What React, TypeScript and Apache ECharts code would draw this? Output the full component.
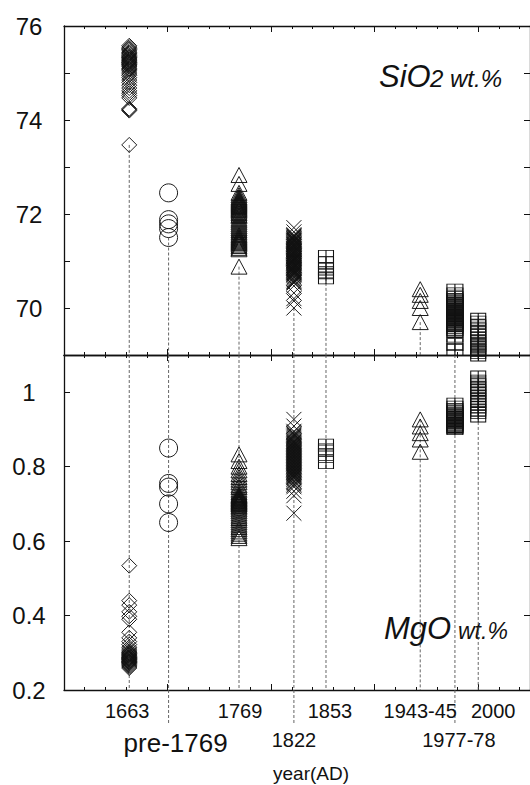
import React, { useEffect, useRef } from 'react';
import * as echarts from 'echarts';

// ---------- data ----------
const categories = ['1663', 'pre-1769', '1769', '1822', '1853', '1943-45', '1977-78', '2000'];
const years = [1663, 1701, 1769, 1822, 1853, 1944, 1977.5, 2000];

const sio2_1663 = [75.58, 75.55, 75.52, 75.5, 75.47, 75.44, 75.42, 75.4, 75.37, 75.35, 75.33, 75.32, 75.3, 75.28, 75.27, 75.25, 75.23, 75.22, 75.2, 75.18, 75.17, 75.15, 75.13, 75.1, 75.08, 75.06, 75.02, 74.98, 74.95, 74.9, 74.85, 74.8, 74.74, 74.68, 74.62, 74.57, 74.52, 74.47, 74.24, 74.22, 74.2, 73.47];
const sio2_pre1769 = [72.45, 71.88, 71.79, 71.69, 71.5];
const sio2_1769 = [72.83, 72.64, 72.45, 72.4, 72.36, 72.33, 72.31, 72.29, 72.27, 72.25, 72.23, 72.21, 72.19, 72.17, 72.15, 72.12, 72.1, 72.08, 72.05, 72.02, 71.98, 71.95, 71.9, 71.86, 71.82, 71.78, 71.74, 71.7, 71.66, 71.62, 71.58, 71.55, 71.52, 71.5, 71.48, 71.46, 71.44, 71.42, 71.4, 71.38, 71.35, 71.32, 71.28, 71.25, 70.88];
const sio2_1822 = [71.71, 71.62, 71.56, 71.54, 71.53, 71.51, 71.5, 71.48, 71.47, 71.45, 71.44, 71.43, 71.42, 71.4, 71.39, 71.37, 71.36, 71.35, 71.34, 71.32, 71.31, 71.3, 71.29, 71.27, 71.26, 71.25, 71.24, 71.22, 71.21, 71.2, 71.19, 71.17, 71.16, 71.15, 71.14, 71.12, 71.11, 71.1, 71.09, 71.07, 71.06, 71.05, 71.04, 71.02, 71.01, 71.0, 70.99, 70.97, 70.96, 70.95, 70.94, 70.92, 70.91, 70.9, 70.89, 70.87, 70.86, 70.85, 70.84, 70.82, 70.81, 70.8, 70.79, 70.77, 70.76, 70.75, 70.74, 70.72, 70.71, 70.69, 70.66, 70.63, 70.6, 70.57, 70.55, 70.53, 70.47, 70.32, 70.2, 70.15, 70.0];
const sio2_1853 = [71.1, 70.96, 70.83, 70.75, 70.64];
const sio2_1943 = [70.4, 70.28, 70.15, 70.0, 69.7];
const sio2_1977 = [70.38, 70.3, 70.22, 70.18, 70.15, 70.13, 70.1, 70.08, 70.06, 70.04, 70.02, 70.0, 69.98, 69.96, 69.94, 69.92, 69.9, 69.88, 69.86, 69.84, 69.82, 69.8, 69.78, 69.76, 69.74, 69.72, 69.7, 69.68, 69.65, 69.62, 69.58, 69.54, 69.5, 69.4, 69.22, 69.12];
const sio2_2000 = [69.76, 69.7, 69.62, 69.55, 69.48, 69.42, 69.36, 69.3, 69.25, 69.2, 69.15, 69.1, 69.05, 69.0];

const mgo_1663 = [0.534, 0.44, 0.428, 0.41, 0.398, 0.39, 0.355, 0.34, 0.33, 0.322, 0.315, 0.31, 0.305, 0.302, 0.3, 0.298, 0.296, 0.294, 0.292, 0.29, 0.288, 0.287, 0.285, 0.284, 0.282, 0.281, 0.279, 0.277, 0.276, 0.274, 0.273, 0.271, 0.268, 0.265, 0.262, 0.259];
const mgo_pre1769 = [0.85, 0.755, 0.745, 0.7, 0.65];
const mgo_1769 = [0.833, 0.815, 0.8, 0.79, 0.78, 0.772, 0.765, 0.758, 0.75, 0.745, 0.738, 0.732, 0.727, 0.724, 0.722, 0.72, 0.718, 0.716, 0.714, 0.712, 0.71, 0.708, 0.706, 0.704, 0.702, 0.7, 0.698, 0.694, 0.69, 0.685, 0.68, 0.674, 0.668, 0.662, 0.656, 0.65, 0.644, 0.638, 0.632, 0.626, 0.62, 0.614, 0.608];
const mgo_1822 = [0.927, 0.909, 0.895, 0.892, 0.888, 0.885, 0.882, 0.879, 0.876, 0.873, 0.87, 0.868, 0.866, 0.864, 0.862, 0.86, 0.858, 0.856, 0.854, 0.852, 0.85, 0.848, 0.846, 0.844, 0.842, 0.84, 0.838, 0.836, 0.834, 0.832, 0.83, 0.828, 0.826, 0.824, 0.822, 0.82, 0.818, 0.816, 0.814, 0.812, 0.81, 0.808, 0.806, 0.804, 0.802, 0.8, 0.798, 0.796, 0.794, 0.792, 0.79, 0.788, 0.786, 0.784, 0.782, 0.78, 0.778, 0.776, 0.774, 0.772, 0.77, 0.766, 0.762, 0.758, 0.754, 0.75, 0.746, 0.734, 0.722, 0.675];
const mgo_1853 = [0.858, 0.845, 0.833, 0.811];
const mgo_1943 = [0.927, 0.908, 0.89, 0.873, 0.84];
const mgo_1977 = [0.968, 0.96, 0.954, 0.948, 0.944, 0.94, 0.936, 0.932, 0.929, 0.926, 0.923, 0.92, 0.917, 0.914, 0.911, 0.908, 0.905, 0.902];
const mgo_2000 = [1.041, 1.03, 1.02, 1.012, 1.005, 0.998, 0.99, 0.982, 0.975, 0.968, 0.96, 0.952, 0.945, 0.936];

const sio2Sets = [sio2_1663, sio2_pre1769, sio2_1769, sio2_1822, sio2_1853, sio2_1943, sio2_1977, sio2_2000];
const mgoSets = [mgo_1663, mgo_pre1769, mgo_1769, mgo_1822, mgo_1853, mgo_1943, mgo_1977, mgo_2000];

// ---------- styling / layout (not data) ----------
const FONT = '"Liberation Sans", Arial, Helvetica, sans-serif';
const INK = '#111';
const CROSS = 'path://M0,0L12,12M12,0L0,12';
const BOXPLUS = 'path://M0,0L16,0L16,12L0,12ZM8,0L8,12M0,6L16,6';
const markerStyle = [
  { symbol: 'diamond', size: 15 },
  { symbol: 'circle', size: 18 },
  { symbol: 'triangle', size: [16, 15] },
  { symbol: CROSS, size: 15 },
  { symbol: BOXPLUS, size: [15, 12] },
  { symbol: 'triangle', size: [16, 15] },
  { symbol: BOXPLUS, size: [16, 12] },
  { symbol: BOXPLUS, size: [15, 12] },
];
// bottom labels: pixel shift from the column, row (0 upper, 1 lower), font size, guide extends below axis
const labelLayout = [
  { dx: -2, row: 0, size: 20, ext: false },
  { dx: 7, row: 1, size: 26, ext: true },
  { dx: 1, row: 0, size: 20, ext: false },
  { dx: 0, row: 1, size: 20, ext: true },
  { dx: 4, row: 0, size: 20, ext: false },
  { dx: 0, row: 0, size: 20, ext: false },
  { dx: 4, row: 1, size: 20, ext: true },
  { dx: 15, row: 0, size: 20, ext: false },
];
// guide line in lower panel starts at panel top (true) or at the highest point (false)
const lineFromTop = [true, true, true, true, true, false, true, false];

const X_MIN = 1600, X_MAX = 2050;
const SI_MIN = 69, SI_MAX = 76;
const MG_MIN = 0.2, MG_MAX = 1.1;

function xAxisCfg(gridIndex: number, position: 'top' | 'bottom') {
  return {
    type: 'value', gridIndex, position, min: X_MIN, max: X_MAX, interval: 100,
    axisLine: { show: true, onZero: false, lineStyle: { color: INK, width: 1.3 } },
    axisTick: { show: true, inside: true, length: 6, lineStyle: { color: INK, width: 1 } },
    minorTick: { show: true, splitNumber: 5, length: 3, lineStyle: { color: INK, width: 1 } },
    axisLabel: { show: false },
    splitLine: { show: false },
  };
}

function yAxisCfg(gridIndex: number, position: 'left' | 'right', min: number, max: number, interval: number, labels: boolean, fmt: (v: number) => string) {
  return {
    type: 'value', gridIndex, position, min, max, interval,
    axisLine: { show: true, onZero: false, lineStyle: { color: INK, width: 1.3 } },
    axisTick: { show: true, inside: true, length: 6, lineStyle: { color: INK, width: 1 } },
    axisLabel: labels ? { show: true, formatter: fmt, fontSize: 24, fontFamily: FONT, color: '#111', align: 'center', margin: 35 } : { show: false },
    splitLine: { show: false },
  };
}

const dashStyle = { stroke: '#555', lineWidth: 0.9, lineDash: [3, 2] };

export default function App() {
  const ref = useRef<HTMLDivElement>(null);
  useEffect(() => {
    if (!ref.current) return;
    const chart = echarts.init(ref.current, undefined, { renderer: 'svg' });

    const scatterSeries: any[] = [];
    categories.forEach((name, i) => {
      const common = {
        type: 'scatter', name, symbol: markerStyle[i].symbol, symbolSize: markerStyle[i].size,
        itemStyle: { color: 'rgba(0,0,0,0)', borderColor: INK, borderWidth: 0.95, opacity: 1 },
        emphasis: { disabled: true }, clip: false, z: 3,
      };
      scatterSeries.push({ ...common, xAxisIndex: 0, yAxisIndex: 0, data: sio2Sets[i].map(v => [years[i], v]) });
      scatterSeries.push({ ...common, xAxisIndex: 2, yAxisIndex: 2, data: mgoSets[i].map(v => [years[i], v]) });
    });

    const topGuides = years.map((yr, i) => [yr, Math.min(...sio2Sets[i]), SI_MIN]);
    const bottomGuides = years.map((yr, i) => [yr, lineFromTop[i] ? MG_MAX : Math.max(...mgoSets[i]), MG_MIN]);
    const labelData = years.map(yr => [yr, MG_MIN]);

    const guideSeries = (xi: number, yi: number, data: number[][], extendable: boolean) => ({
      type: 'custom', xAxisIndex: xi, yAxisIndex: yi, data, clip: false, z: 1, silent: true,
      encode: { x: 0, y: [1, 2] },
      renderItem: (params: any, api: any) => {
        const p0 = api.coord([api.value(0), api.value(1)]);
        const p1 = api.coord([api.value(0), api.value(2)]);
        const ext = extendable && labelLayout[params.dataIndex].ext ? 35 : 0;
        return { type: 'line', shape: { x1: p0[0], y1: p0[1], x2: p1[0], y2: p1[1] + ext }, style: dashStyle };
      },
    });

    const labelSeries = {
      type: 'custom', xAxisIndex: 2, yAxisIndex: 2, data: labelData, clip: false, z: 2, silent: true,
      encode: { x: 0, y: 1 },
      renderItem: (params: any, api: any) => {
        const p = api.coord([api.value(0), api.value(1)]);
        const L = labelLayout[params.dataIndex];
        const dy = L.row === 0 ? 21 : (L.size > 22 ? 53 : 50);
        return {
          type: 'text', x: p[0] + L.dx, y: p[1] + dy,
          style: { text: categories[params.dataIndex], fontSize: L.size, fontFamily: FONT, fill: '#111', align: 'center', verticalAlign: 'middle' },
        };
      },
    };

    chart.setOption({
      animation: false,
      backgroundColor: '#fff',
      grid: [
        { left: 64, right: -1, top: 26, height: 329 },
        { left: 64, right: -1, top: 355, height: 335 },
      ],
      xAxis: [xAxisCfg(0, 'bottom'), xAxisCfg(0, 'top'), xAxisCfg(1, 'top'), xAxisCfg(1, 'bottom')],
      yAxis: [
        yAxisCfg(0, 'left', SI_MIN, SI_MAX, 1, true, (v: number) => (Math.round(v) % 2 === 0 ? String(Math.round(v)) : '')),
        yAxisCfg(0, 'right', SI_MIN, SI_MAX, 1, false, String),
        yAxisCfg(1, 'left', MG_MIN, MG_MAX, 0.2, true, (v: number) => (Math.abs(v - MG_MAX) < 1e-6 ? '' : String(Math.round(v * 10) / 10))),
        yAxisCfg(1, 'right', MG_MIN, MG_MAX, 0.2, false, String),
      ],
      series: [
        guideSeries(0, 0, topGuides, false),
        guideSeries(2, 2, bottomGuides, true),
        labelSeries,
        ...scatterSeries,
      ],
      graphic: [
        { type: 'text', x: 379, y: 76, style: { text: 'SiO', font: `italic 31px ${FONT}`, fill: '#111', align: 'left', verticalAlign: 'middle' } },
        { type: 'text', x: 430, y: 78, style: { text: '2 wt.%', font: `italic 24px ${FONT}`, fill: '#111', align: 'left', verticalAlign: 'middle' } },
        { type: 'text', x: 384, y: 628.5, style: { text: 'MgO', font: `italic 31px ${FONT}`, fill: '#111', align: 'left', verticalAlign: 'middle' } },
        { type: 'text', x: 458, y: 631, style: { text: 'wt.%', font: `italic 23px ${FONT}`, fill: '#111', align: 'left', verticalAlign: 'middle' } },
        { type: 'text', x: 311, y: 773, style: { text: 'year(AD)', font: `19px ${FONT}`, fill: '#111', align: 'center', verticalAlign: 'middle' } },
      ],
    });
    return () => chart.dispose();
  }, []);
  return <div ref={ref} style={{ position: 'absolute', left: 0, top: 0, width: 530, height: 785 }} />;
}
